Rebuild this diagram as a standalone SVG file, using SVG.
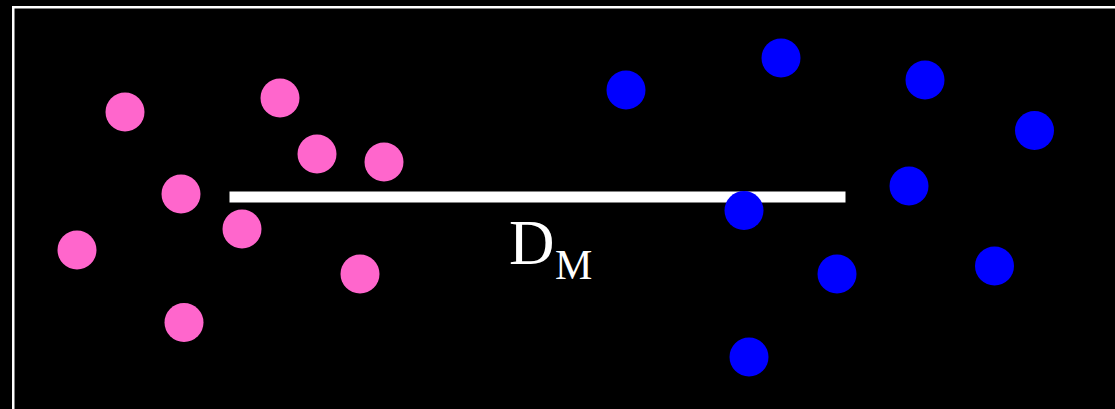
<svg xmlns="http://www.w3.org/2000/svg" width="1115" height="409" viewBox="0 0 1115 409">
<style>
.pink{fill:#FF66CC}
.blue{fill:#0000FF}
.lbl{font-family:"Liberation Serif","Times New Roman",serif;fill:#FFFFFF}
</style>
<rect x="0" y="0" width="1115" height="409" fill="#000000"/>
<rect x="13.25" y="7.25" width="1120" height="420" fill="none" stroke="#FFFFFF" stroke-width="2.5"/>
<g id="connectors">
<rect x="229.5" y="191.5" width="616" height="11" fill="#FFFFFF"/>
</g>
<g id="pink-dots">
<circle id="p1" class="pink" cx="125" cy="112" r="19.5"/>
<circle id="p2" class="pink" cx="280" cy="98" r="19.5"/>
<circle id="p3" class="pink" cx="317" cy="154" r="19.5"/>
<circle id="p4" class="pink" cx="384" cy="162" r="19.5"/>
<circle id="p5" class="pink" cx="181" cy="194" r="19.5"/>
<circle id="p6" class="pink" cx="242" cy="229" r="19.5"/>
<circle id="p7" class="pink" cx="77" cy="250" r="19.5"/>
<circle id="p8" class="pink" cx="360" cy="274" r="19.5"/>
<circle id="p9" class="pink" cx="184" cy="322.5" r="19.5"/>
</g>
<g id="blue-dots">
<circle id="b1" class="blue" cx="626" cy="90" r="19.5"/>
<circle id="b2" class="blue" cx="781" cy="58" r="19.5"/>
<circle id="b3" class="blue" cx="925" cy="80" r="19.5"/>
<circle id="b4" class="blue" cx="1034.5" cy="130.5" r="19.5"/>
<circle id="b5" class="blue" cx="909" cy="186" r="19.5"/>
<circle id="b6" class="blue" cx="744" cy="210.5" r="19.5"/>
<circle id="b7" class="blue" cx="837" cy="274" r="19.5"/>
<circle id="b8" class="blue" cx="994.5" cy="266" r="19.5"/>
<circle id="b9" class="blue" cx="749" cy="357" r="19.5"/>
</g>
<g id="label">
<text class="lbl" x="509" y="264" font-size="63">D</text>
<text class="lbl" x="555" y="279" font-size="42">M</text>
</g>
</svg>
